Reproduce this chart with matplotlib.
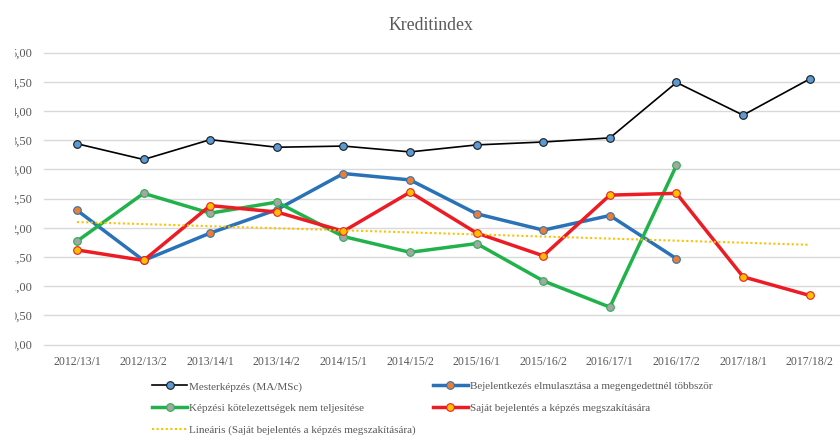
import numpy as np
import matplotlib
matplotlib.use("Agg")
import matplotlib.pyplot as plt
from matplotlib.patches import Rectangle

plt.rcParams['font.family'] = ['Liberation Serif', 'DejaVu Serif']

# data
categories = ['2012/13/1', '2012/13/2', '2013/14/1', '2013/14/2', '2014/15/1', '2014/15/2',
              '2015/16/1', '2015/16/2', '2016/17/1', '2016/17/2', '2017/18/1', '2017/18/2']
mester = [3.44, 3.17, 3.51, 3.38, 3.40, 3.30, 3.42, 3.47, 3.54, 4.49, 3.93, 4.55]
bejelentkezes = [2.30, 1.44, 1.91, 2.31, 2.93, 2.82, 2.24, 1.96, 2.21, 1.47, np.nan, np.nan]
kotelezettseg = [1.77, 2.59, 2.25, 2.44, 1.85, 1.58, 1.73, 1.09, 0.64, 3.07, np.nan, np.nan]
sajat = [1.62, 1.44, 2.38, 2.27, 1.94, 2.61, 1.91, 1.52, 2.56, 2.59, 1.16, 0.84]

labels = ['Mesterképzés (MA/MSc)',
          'Bejelentkezés elmulasztása a megengedettnél többször',
          'Képzési kötelezettségek nem teljesítése',
          'Saját bejelentés a képzés megszakítására',
          'Lineáris (Saját bejelentés a képzés megszakítására)']

txt = '#595959'
x = np.arange(len(categories))

fig = plt.figure(figsize=(8.4, 4.37), dpi=100)
ax = fig.add_axes([43.7 / 840, 1 - 344.5 / 437, (843 - 43.7) / 840, (344.5 - 52.7) / 437])

h_m, = ax.plot(x, mester, color='black', lw=1.2, marker='o', ms=5.5,
               mfc='#5B9BD5', mec='#1a1a1a', mew=0.8, zorder=3)
h_b, = ax.plot(x, bejelentkezes, color='#2A72B8', lw=2.5, marker='o', ms=5.5,
               mfc='#ED7D31', mec='#2A72B8', mew=0.8, zorder=3)
h_k, = ax.plot(x, kotelezettseg, color='#21B24B', lw=2.5, marker='o', ms=5.5,
               mfc='#A5A5A5', mec='#21B24B', mew=0.8, zorder=3)
h_s, = ax.plot(x, sajat, color='#ED1C24', lw=2.5, marker='o', ms=5.5,
               mfc='#FFC000', mec='#ED1C24', mew=0.8, zorder=3)

# linear trendline of the last series
coef = np.polyfit(x, sajat, 1)
h_t, = ax.plot(x, np.polyval(coef, x), color='#FFC000', lw=1.5, ls=(0, (1, 1.2)), zorder=4)

ax.set_xlim(-0.5, len(categories) - 0.5)
ax.set_ylim(0, 5)
yt = np.arange(0, 5.01, 0.5)
ax.set_yticks(yt)
ax.set_yticklabels([f'{v:.2f}'.replace('.', ',') for v in yt])
ax.set_xticks(x)
ax.set_xticklabels(categories)
ax.tick_params(length=0, colors=txt, labelsize=8.5)
ax.tick_params(axis='y', pad=8, labelsize=9)
ax.tick_params(axis='x', pad=8)
for s in ax.spines.values():
    s.set_visible(False)
ax.grid(axis='y', color='#D9D9D9', lw=1.0)
for gl in ax.get_ygridlines():
    gl.set_clip_on(False)
ax.set_axisbelow(True)

fig.text(431 / 840, 1 - 25 / 437, 'Kreditindex', ha='center', va='center',
         fontsize=12.8, color=txt)

leg_kw = dict(frameon=False, fontsize=8, borderpad=0, borderaxespad=0,
              handlelength=3.15, handletextpad=0.2, labelspacing=1.05,
              labelcolor=txt, loc='upper left')
fig.legend([h_m, h_k, h_t], [labels[0], labels[2], labels[4]],
           bbox_to_anchor=(152 / 840, 1 - 381.5 / 437), **leg_kw)
fig.legend([h_b, h_s], [labels[1], labels[3]],
           bbox_to_anchor=(433 / 840, 1 - 381.5 / 437), **leg_kw)

# the reference is cropped on the left edge
fig.add_artist(Rectangle((0, 0), 14 / 840, 1, transform=fig.transFigure,
                         color='white', zorder=10))

fig.savefig('out.png', dpi=100)
